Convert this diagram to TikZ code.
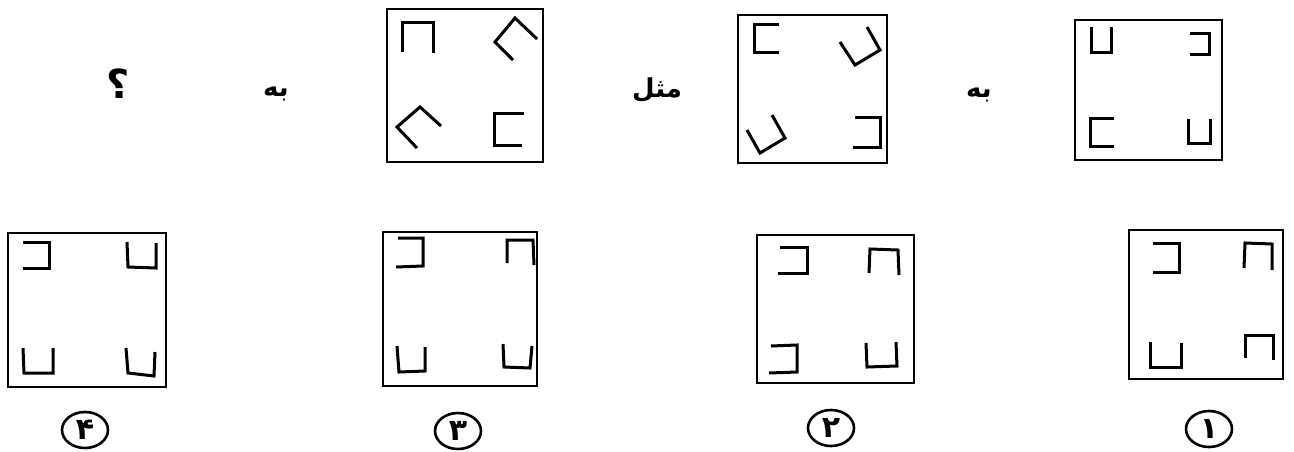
\documentclass[tikz,border=0pt]{standalone}
\usepackage{fontspec}
\newfontfamily\arabicfont[Script=Arabic]{DejaVu Sans}
\TeXXeTstate=1
\usetikzlibrary{shapes.geometric}

\begin{document}
\begin{tikzpicture}[
x=1pt, y=-1pt,
frame/.style={draw, line width=2.4pt},
glyph/.style={draw, line width=3pt, line join=miter},
word/.style={font=\arabicfont\bfseries\fontsize{26}{30}\selectfont, inner sep=0pt},
numbox/.style={draw, ellipse, line width=2.6pt, minimum width=46pt, minimum height=36pt,
  inner sep=0pt, font=\arabicfont\bfseries\fontsize{30}{34}\selectfont}
]
\useasboundingbox (0,0) rectangle (1294,451);

% top row
\draw[frame] (1075,20) rectangle (1222,160);
\draw[glyph] (1091,27) -- (1091,52) -- (1111,52) -- (1111,27);
\draw[glyph] (1190,33) -- (1209,33) -- (1209,54) -- (1190,54);
\draw[glyph] (1114,118) -- (1090,118) -- (1090,146) -- (1114,146);
\draw[glyph] (1188,119) -- (1188,143) -- (1210,143) -- (1210,119);

\draw[frame] (738,15) rectangle (887,163);
\draw[glyph] (779,24) -- (754,24) -- (754,52) -- (779,52);
\draw[glyph] (840,42) -- (855,65) -- (880,50) -- (867,27);
\draw[glyph] (747,130) -- (760,153) -- (785,138) -- (772,115);
\draw[glyph] (855,117) -- (880,117) -- (880,147) -- (853,147);

\draw[frame] (387,9) rectangle (543,162);
\draw[glyph] (402,52) -- (402,22) -- (433,22) -- (433,53);
\draw[glyph] (513,60) -- (495,42) -- (515,18) -- (537,39);
\draw[glyph] (417,148) -- (397,127) -- (420,107) -- (441,126);
\draw[glyph] (524,113) -- (494,113) -- (494,145) -- (522,145);

\node[word] (like) at (657,90) {\beginR مثل\endR};
\node[word] (to1) at (979,95) {\beginR به\endR};
\node[word] (to2) at (276,94) {\beginR به\endR};
\node[word, font=\arabicfont\bfseries\fontsize{40}{44}\selectfont] (ask) at (118,84) {؟};

% bottom row
\draw[frame] (1129,230) rectangle (1283,379);
\draw[glyph] (1153,243) -- (1179,243) -- (1179,272) -- (1153,272);
\draw[glyph] (1244,268) -- (1245,243) -- (1272,244) -- (1272,270);
\draw[glyph] (1150,342) -- (1150,367) -- (1181,367) -- (1181,343);
\draw[glyph] (1245,358) -- (1245,335) -- (1273,335) -- (1273,360);

\draw[frame] (757,235) rectangle (914,383);
\draw[glyph] (780,247) -- (807,247) -- (807,273) -- (778,273);
\draw[glyph] (869,273) -- (870,249) -- (898,250) -- (899,275);
\draw[glyph] (771,346) -- (797,345) -- (797,372) -- (769,373);
\draw[glyph] (866,343) -- (867,367) -- (897,366) -- (896,342);

\draw[frame] (383,232) rectangle (537,386);
\draw[glyph] (398,238) -- (423,238) -- (423,266) -- (396,267);
\draw[glyph] (507,263) -- (507,240) -- (533,240) -- (534,265);
\draw[glyph] (397,346) -- (399,372) -- (425,371) -- (425,347);
\draw[glyph] (503,344) -- (504,367) -- (530,368) -- (532,346);

\draw[frame] (8,233) rectangle (166,387);
\draw[glyph] (23,242) -- (49,242) -- (49,268) -- (23,268);
\draw[glyph] (127,242) -- (128,267) -- (156,268) -- (156,243);
\draw[glyph] (23,348) -- (24,373) -- (53,373) -- (53,348);
\draw[glyph] (126,348) -- (128,373) -- (154,376) -- (155,352);

\node[numbox] (one) at (1209,429) {۱};
\node[numbox] (two) at (831,428) {۲};
\node[numbox] (three) at (458,431) {۳};
\node[numbox] (four) at (85,430) {۴};

\end{tikzpicture}
\end{document}
